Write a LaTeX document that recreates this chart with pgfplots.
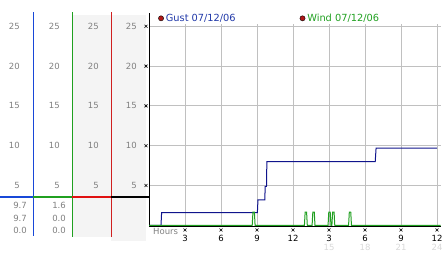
\documentclass[border=0pt]{standalone}
\usepackage{pgfplots}
\pgfplotsset{compat=1.18}
\usepackage{fontspec}
\setmainfont{DejaVu Sans}
\definecolor{gustblue}{HTML}{10148C}
\definecolor{legblue}{HTML}{2038A8}
\definecolor{sepblue}{RGB}{24,72,216}
\definecolor{wgreen}{HTML}{20A020}
\definecolor{sepred}{RGB}{208,32,32}
\definecolor{hred}{HTML}{E01010}
\definecolor{dotred}{HTML}{B01818}
\definecolor{gridgray}{HTML}{C0C0C0}
\definecolor{labgray}{HTML}{808080}
\definecolor{panelbg}{HTML}{F4F4F4}
\definecolor{faint}{HTML}{D8D8D8}
\begin{document}
\begin{tikzpicture}[x=1pt,y=1pt]
\useasboundingbox (0,0) rectangle (442,253);
% panel backgrounds
\fill[panelbg] (72,16) rectangle (111,238);
\fill[panelbg] (111,12) rectangle (146,238);
% panel separators
\fill[sepblue] (32.6,17) rectangle (34.0,241);
\fill[wgreen] (71.6,16) rectangle (73.0,241);
\fill[sepred] (110.6,16) rectangle (112.0,241);
% horizontal marker line
\fill[sepblue] (0,55) rectangle (33,57);
\fill[wgreen] (33,55) rectangle (72,57);
\fill[hred] (72,55) rectangle (111,57);
\fill[black] (111,55) rectangle (149,57);
% panel scale labels
\foreach \v in {5,10,15,20,25}{
  \pgfmathsetmacro\yy{27.7+7.96*\v}
  \node[anchor=east,inner sep=0pt,text=labgray,font=\fontsize{8.5}{10}\selectfont] at (20,\yy) {\v};
  \node[anchor=east,inner sep=0pt,text=labgray,font=\fontsize{8.5}{10}\selectfont] at (60,\yy) {\v};
  \node[anchor=east,inner sep=0pt,text=labgray,font=\fontsize{8.5}{10}\selectfont] at (99,\yy) {\v};
  \draw[black,line width=0.6pt] (144.5,\yy-1.5) -- (147.5,\yy+1.5) (144.5,\yy+1.5) -- (147.5,\yy-1.5);
}
% summary values
\begin{scope}[every node/.style={anchor=east,inner sep=0pt,text=labgray,font=\fontsize{8.5}{10}\selectfont}]
\node at (27,48) {9.7};
\node at (27,35) {9.7};
\node at (27,23) {0.0};
\node at (66,48) {1.6};
\node at (66,35) {0.0};
\node at (66,23) {0.0};
\end{scope}
\begin{axis}[
  at={(149pt,26.5pt)}, anchor=south west, scale only axis,
  width=292pt, height=202.6pt,
  xmin=0, xmax=24.33, ymin=-0.15, ymax=25.3,
  axis x line*=bottom, axis y line*=left,
  axis line style={black,line width=1pt},
  grid=major, grid style={gridgray,line width=0.8pt},
  xtick={3,6,...,24}, ytick={5,10,...,25},
  xticklabels={3,6,9,12,3,6,9,12},
  yticklabels={5,10,15,20,25},
  major tick length=0pt,
  xticklabel style={anchor=north,inner sep=0pt,yshift=-8.6pt,font=\fontsize{8.5}{10}\selectfont,text=black},
  yticklabel style={anchor=east,inner sep=0pt,xshift=-12pt,font=\fontsize{8.5}{10}\selectfont,text=labgray},
  legend columns=2,
  legend image code/.code={\draw[fill=dotred,draw=black,line width=0.4pt] (2.8pt,0pt) circle (2.6pt);},
  legend style={draw=none,fill=none,inner sep=0pt,outer sep=0pt,
    at={(axis cs:0.77,26.0)},anchor=west,
    font=\fontsize{9.8}{11}\selectfont,
    nodes={inner sep=0pt},
    column sep=2pt,
    /tikz/every even column/.append style={column sep=64pt}},
  clip=false,
]
\addplot[gustblue,line width=1pt] coordinates {
  (0,0) (1.0,0) (1.05,1.6) (9.03,1.6) (9.08,3.2) (9.65,3.2) (9.68,4.9) (9.79,4.9) (9.82,8.0) (18.85,8.0) (18.92,9.7) (24,9.7)
};
\addplot[wgreen,line width=1pt] coordinates {
  (0,0)
  (8.60,0) (8.66,1.65) (8.78,1.65) (8.84,0)
  (12.95,0) (13.01,1.65) (13.13,1.65) (13.19,0)
  (13.59,0) (13.65,1.65) (13.77,1.65) (13.83,0)
  (14.92,0) (14.98,1.65) (15.10,1.65) (15.16,0)
  (15.24,0) (15.30,1.65) (15.42,1.65) (15.48,0)
  (16.63,0) (16.69,1.65) (16.81,1.65) (16.87,0)
  (24.3,0)
};
\legend{\textcolor{legblue}{Gust 07/12/06},\textcolor{wgreen}{Wind 07/12/06}}
\end{axis}
% axis line extension to the top
\draw[black,line width=1pt] (149,225) -- (149,240);
% x tick marks
\foreach \h in {3,6,...,24}{
  \pgfmathsetmacro\xx{149+12*\h}
  \draw[black,line width=0.6pt] (\xx-1.5,21.5) -- (\xx+1.5,24.5) (\xx-1.5,24.5) -- (\xx+1.5,21.5);
}
% second row of hour labels
\foreach \h/\t in {15/15,18/18,21/21,24/24}{
  \pgfmathsetmacro\xx{149+12*\h}
  \node[inner sep=0pt,text=faint,font=\fontsize{8.5}{10}\selectfont] at (\xx,5.7) {\t};
}
\node[anchor=west,inner sep=0pt,text=labgray,font=\fontsize{8.5}{10}\selectfont] at (153,22) {Hours};
\end{tikzpicture}
\end{document}
